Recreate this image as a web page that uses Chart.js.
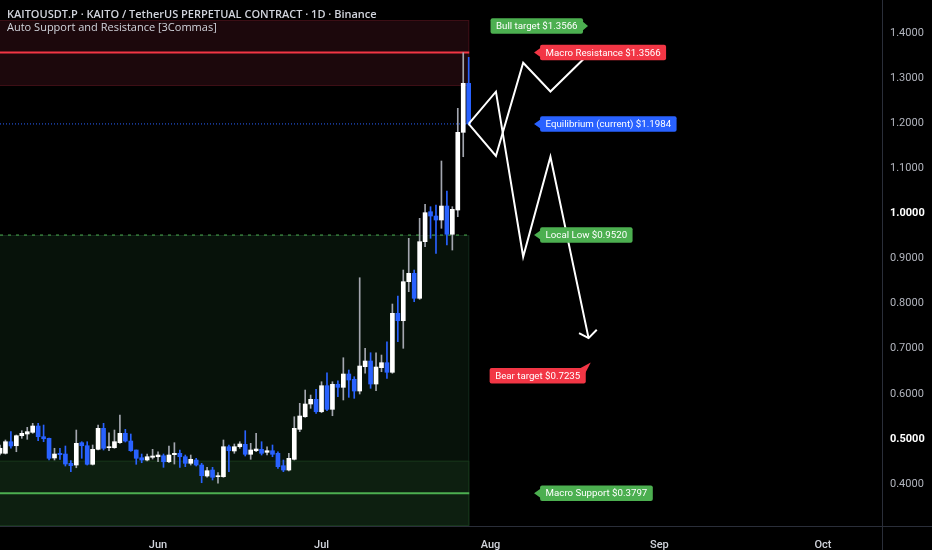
<!DOCTYPE html>
<html>
<head>
<meta charset="utf-8">
<title>KAITOUSDT.P 1D</title>
<script src="https://cdn.jsdelivr.net/npm/chart.js@4.4.1/dist/chart.umd.min.js"></script>
<style>
  html, body { margin: 0; padding: 0; background: #000; }
  #wrap { position: relative; width: 932px; height: 550px; }
  #header { position: absolute; left: 7px; top: 7px; font-family: "Open Sans", sans-serif; color: #d1d4dc; pointer-events: none; white-space: nowrap; }
  #header .sym { font-size: 11px; font-weight: 600; line-height: 13px; }
  #header .ind { font-size: 11px; line-height: 13px; }
</style>
</head>
<body>
<div id="wrap">
  <canvas id="chart" width="932" height="550"></canvas>
  <div id="header">
    <div class="sym">KAITOUSDT.P · KAITO / TetherUS PERPETUAL CONTRACT · 1D · Binance</div>
    <div class="ind">Auto Support and Resistance [3Commas]</div>
  </div>
</div>
<script>
// daily candles, first one is 3 May (day 0 = 1 Jun)
const firstDay = -29;
const opens = [
    0.4681, 0.4681, 0.4938, 0.4849, 0.5071, 0.5109, 0.5146, 0.5286, 0.5049, 0.5013,
    0.4577, 0.4681, 0.4665, 0.4459, 0.4421, 0.4916, 0.4849, 0.4437, 0.4769, 0.5235,
    0.4805, 0.4805, 0.4916, 0.5124, 0.4953, 0.4754, 0.4583, 0.4532, 0.4592, 0.4605,
    0.4627, 0.4494, 0.4650, 0.4681, 0.4605, 0.4459, 0.4532, 0.4421, 0.4177, 0.4310,
    0.4162, 0.4162, 0.4827, 0.4732, 0.4827, 0.4880, 0.4659, 0.4738, 0.4769, 0.4703,
    0.4738, 0.4681, 0.4406, 0.4310, 0.4548, 0.5213, 0.5492, 0.5774, 0.5878, 0.5603,
    0.6180, 0.5656, 0.6211, 0.6144, 0.6439, 0.6322, 0.6062, 0.6601, 0.6727, 0.6217,
    0.6579, 0.6690, 0.6477, 0.7785, 0.7621, 0.8486, 0.8672, 0.8118, 0.9373, 1.0038,
    0.9942, 0.9854, 1.0164, 0.9537, 1.0075, 1.1798, 1.2885
];
const highs = [
    0.4865, 0.4976, 0.5160, 0.5087, 0.5182, 0.5257, 0.5346, 0.5346, 0.5308, 0.5020,
    0.4792, 0.4792, 0.4843, 0.4517, 0.5197, 0.4938, 0.4938, 0.4865, 0.5308, 0.5346,
    0.5137, 0.5197, 0.5530, 0.5213, 0.5109, 0.4754, 0.4665, 0.4665, 0.4769, 0.4716,
    0.4665, 0.4843, 0.4916, 0.4754, 0.4643, 0.4643, 0.4570, 0.4459, 0.4370, 0.4370,
    0.4251, 0.4976, 0.4865, 0.4887, 0.4938, 0.5182, 0.4902, 0.5124, 0.4938, 0.4827,
    0.4865, 0.4716, 0.4532, 0.4681, 0.5492, 0.5789, 0.6084, 0.5973, 0.6100, 0.6268,
    0.6468, 0.6268, 0.6290, 0.6800, 0.6528, 0.6379, 0.8574, 0.7009, 0.6911, 0.6911,
    0.6860, 0.7155, 0.7991, 0.8169, 0.8745, 0.9448, 0.8745, 0.9891, 1.0202, 1.0149,
    1.0186, 1.1162, 1.0497, 1.0149, 1.2330, 1.3563, 1.3461
];
const lows = [
    0.4643, 0.4665, 0.4792, 0.4716, 0.5013, 0.4991, 0.5124, 0.4960, 0.4938, 0.4532,
    0.4532, 0.4548, 0.4399, 0.4273, 0.4361, 0.4570, 0.4421, 0.4421, 0.4754, 0.4754,
    0.4738, 0.4792, 0.4902, 0.4931, 0.4725, 0.4437, 0.4472, 0.4510, 0.4554, 0.4494,
    0.4370, 0.4472, 0.4443, 0.4370, 0.4384, 0.4421, 0.4399, 0.4029, 0.4149, 0.4089,
    0.4016, 0.4149, 0.4273, 0.4681, 0.4792, 0.4621, 0.4548, 0.4716, 0.4643, 0.4643,
    0.4605, 0.4348, 0.4273, 0.4288, 0.4532, 0.5160, 0.5479, 0.5678, 0.5568, 0.5581,
    0.5625, 0.5514, 0.5936, 0.5863, 0.5922, 0.5900, 0.5996, 0.6455, 0.6122, 0.6069,
    0.6490, 0.6344, 0.6455, 0.7155, 0.7009, 0.8264, 0.8042, 0.8095, 0.9262, 0.9448,
    0.9115, 0.9670, 0.9299, 0.9188, 0.9927, 1.1257, 1.1960
];
const closes = [
    0.4792, 0.4938, 0.4843, 0.5071, 0.5124, 0.5160, 0.5286, 0.5049, 0.5004, 0.4570,
    0.4665, 0.4650, 0.4443, 0.4406, 0.4902, 0.4849, 0.4437, 0.4769, 0.5235, 0.4792,
    0.4827, 0.4938, 0.5124, 0.4953, 0.4738, 0.4570, 0.4532, 0.4605, 0.4621, 0.4643,
    0.4494, 0.4643, 0.4681, 0.4605, 0.4459, 0.4548, 0.4421, 0.4184, 0.4295, 0.4149,
    0.4184, 0.4827, 0.4738, 0.4827, 0.4887, 0.4659, 0.4754, 0.4776, 0.4681, 0.4738,
    0.4659, 0.4384, 0.4310, 0.4570, 0.5235, 0.5508, 0.5774, 0.5878, 0.5603, 0.6180,
    0.5656, 0.6211, 0.6144, 0.6439, 0.6306, 0.6062, 0.6616, 0.6727, 0.6217, 0.6594,
    0.6690, 0.6477, 0.7785, 0.7621, 0.8486, 0.8672, 0.8118, 0.9373, 1.0016, 0.9942,
    0.9854, 1.0164, 0.9537, 1.0091, 1.1798, 1.2885, 1.1984
];

// axes
const monthDays = [0, 30, 61, 92, 122];
const monthNames = ["Jun", "Jul", "Aug", "Sep", "Oct"];
const priceTicks = [0.4, 0.5, 0.6, 0.7, 0.8, 0.9, 1.0, 1.1, 1.2, 1.3, 1.4];

// support / resistance levels
const macroResistance = 1.3566;
const equilibrium = 1.1984;
const localLow = 0.9520;
const macroSupport = 0.3797;
const resistanceZone = [1.2847, 1.4288];
const demandZone = [0.3091, 0.9520];
const supportZone = [0.3091, 0.4517];
const zoneEndDay = 57.1;

// projected paths
const bullDays = [57, 62, 67, 72, 79.3];
const bullPrices = [1.1984, 1.1273, 1.3342, 1.2703, 1.3566];
const bearDays = [57, 62, 67, 72, 79];
const bearPrices = [1.1984, 1.2699, 0.9040, 1.1257, 0.7235];
const arrowDays = [77.25, 79, 80.5];
const arrowPrices = [0.7346, 0.7235, 0.7421];

// callout labels (anchor = pointer tip)
const calloutTexts = [
    "Bull target $1.3566",
    "Macro Resistance $1.3566",
    "Equilibrium (current) $1.1984",
    "Local Low $0.9520",
    "Bear target $0.7235",
    "Macro Support $0.3797"
];
const calloutDays = [78.9, 69, 69, 69, 79.4, 69];
const calloutPrices = [1.4155, 1.3566, 1.1984, 0.9520, 0.6694, 0.3797];

(function () {
    "use strict";

    var upColor = "#ffffff";
    var downColor = "#2962ff";
    var upWick = "#a3a6af";
    var green = "#4caf50";
    var red = "#f23645";
    var blue = "#2962ff";
    var calloutStyle = [
        { color: green, side: "right" },
        { color: red, side: "left" },
        { color: blue, side: "left" },
        { color: green, side: "left" },
        { color: red, side: "corner" },
        { color: green, side: "left" }
    ];

    var days = opens.map(function (o, i) { return firstDay + i; });
    var isUp = function (i) { return closes[i] >= opens[i]; };

    var bodies = days.map(function (d, i) { return { x: d, y: [opens[i], closes[i]] }; });
    var wicks = days.map(function (d, i) { return { x: d, y: [lows[i], highs[i]] }; });
    var toPoints = function (xs, ys) { return xs.map(function (x, i) { return { x: x, y: ys[i] }; }); };

    // Zones and level lines behind the candles
    var levelsPlugin = {
        id: "levels",
        beforeDatasetsDraw: function (chart) {
            var ctx = chart.ctx, xs = chart.scales.x, ys = chart.scales.y, area = chart.chartArea;
            var left = area.left, right = xs.getPixelForValue(zoneEndDay);
            var rect = function (zone, fill, stroke) {
                var top = ys.getPixelForValue(zone[1]), bottom = ys.getPixelForValue(zone[0]);
                ctx.fillStyle = fill;
                ctx.fillRect(left, top, right - left, bottom - top);
                ctx.strokeStyle = stroke;
                ctx.lineWidth = 1;
                ctx.strokeRect(left - 1, top + 0.5, right - left + 0.5, bottom - top);
            };
            var hline = function (v, color, width, dash) {
                var y = ys.getPixelForValue(v);
                ctx.save();
                ctx.strokeStyle = color;
                ctx.lineWidth = width;
                ctx.setLineDash(dash);
                ctx.beginPath();
                ctx.moveTo(left, y);
                ctx.lineTo(right, y);
                ctx.stroke();
                ctx.restore();
            };
            ctx.save();
            rect(resistanceZone, "#1c080c", "#3e0f16");
            rect(demandZone, "#07120a", "#12281a");
            rect(supportZone, "#0d1f10", "#17361b");
            hline(macroResistance, red, 2, []);
            hline(equilibrium, blue, 1, [1, 2]);
            hline(localLow, green, 1, [3, 5]);
            hline(macroSupport, green, 2, []);
            ctx.restore();
        }
    };

    // Frame lines of the price and time scales
    var framePlugin = {
        id: "frame",
        afterDraw: function (chart) {
            var ctx = chart.ctx, area = chart.chartArea;
            ctx.save();
            ctx.strokeStyle = "#2a2e39";
            ctx.lineWidth = 1;
            ctx.beginPath();
            ctx.moveTo(area.right + 0.5, 0);
            ctx.lineTo(area.right + 0.5, chart.height);
            ctx.moveTo(0, area.bottom + 0.5);
            ctx.lineTo(chart.width, area.bottom + 0.5);
            ctx.stroke();
            ctx.restore();
        }
    };

    // Callout labels with pointer
    var calloutPlugin = {
        id: "callouts",
        afterDatasetsDraw: function (chart) {
            var ctx = chart.ctx, xs = chart.scales.x, ys = chart.scales.y;
            ctx.save();
            ctx.font = "9.7px Roboto";
            ctx.textBaseline = "middle";
            calloutTexts.forEach(function (text, i) {
                var st = calloutStyle[i];
                var tx = xs.getPixelForValue(calloutDays[i]);
                var ty = ys.getPixelForValue(calloutPrices[i]);
                var w = ctx.measureText(text).width + 11;
                var h = 15.5;
                var bx, by;
                ctx.fillStyle = st.color;
                ctx.beginPath();
                if (st.side === "left") {
                    bx = tx + 6;
                    by = ty - h / 2;
                    ctx.moveTo(tx, ty);
                    ctx.lineTo(bx + 1, ty - 5);
                    ctx.lineTo(bx + 1, ty + 5);
                } else if (st.side === "right") {
                    bx = tx - 5 - w;
                    by = ty - h / 2;
                    ctx.moveTo(tx, ty);
                    ctx.lineTo(bx + w - 1, ty - 5);
                    ctx.lineTo(bx + w - 1, ty + 5);
                } else {
                    bx = tx - 5 - w;
                    by = ty + 5.5;
                    ctx.moveTo(tx, ty);
                    ctx.lineTo(bx + w - 7, by + 1);
                    ctx.lineTo(bx + w - 1, by + 6);
                }
                ctx.closePath();
                ctx.fill();
                ctx.beginPath();
                ctx.roundRect(bx, by, w, h, 2);
                ctx.fill();
                ctx.fillStyle = "#ffffff";
                ctx.fillText(text, bx + 5.5, by + h / 2 + 0.5);
            });
            ctx.restore();
        }
    };

    var lineStyle = {
        type: "line",
        borderColor: "#ffffff",
        borderWidth: 2,
        pointRadius: 0,
        tension: 0,
        fill: false,
        order: 0
    };

    new Chart(document.getElementById("chart"), {
        type: "bar",
        data: {
            datasets: [
                Object.assign({}, lineStyle, { data: toPoints(bullDays, bullPrices) }),
                Object.assign({}, lineStyle, { data: toPoints(bearDays, bearPrices) }),
                Object.assign({}, lineStyle, { data: toPoints(arrowDays, arrowPrices) }),
                {
                    data: bodies,
                    backgroundColor: function (c) { return isUp(c.dataIndex) ? upColor : downColor; },
                    barThickness: 4,
                    minBarLength: 1,
                    grouped: false,
                    order: 1
                },
                {
                    data: wicks,
                    backgroundColor: function (c) { return isUp(c.dataIndex) ? upWick : downColor; },
                    barThickness: 1,
                    grouped: false,
                    order: 2
                }
            ]
        },
        options: {
            responsive: false,
            animation: false,
            events: [],
            layout: { padding: 0 },
            plugins: {
                legend: { display: false },
                tooltip: { enabled: false }
            },
            scales: {
                x: {
                    type: "linear",
                    min: firstDay,
                    max: firstDay + 161.84,
                    offset: false,
                    grid: { display: false },
                    border: { display: false },
                    afterBuildTicks: function (s) {
                        s.ticks = monthDays.map(function (v) { return { value: v }; });
                    },
                    afterFit: function (s) {
                        s.height = 24;
                        s.paddingLeft = 0;
                        s.paddingRight = 0;
                    },
                    ticks: {
                        autoSkip: false,
                        maxRotation: 0,
                        padding: 5,
                        color: "#d1d4dc",
                        font: { family: "Roboto", size: 11, weight: "500" },
                        callback: function (v) { return monthNames[monthDays.indexOf(v)]; }
                    }
                },
                y: {
                    type: "linear",
                    position: "right",
                    min: 0.3069,
                    max: 1.4732,
                    grid: { display: false, drawTicks: false },
                    border: { display: false },
                    afterBuildTicks: function (s) {
                        s.ticks = priceTicks.map(function (v) { return { value: v }; });
                    },
                    afterFit: function (s) {
                        s.width = 50;
                        s.paddingTop = 0;
                        s.paddingBottom = 0;
                    },
                    ticks: {
                        padding: 8,
                        color: function (c) {
                            return (c.tick.value === 1 || c.tick.value === 0.5) ? "#ffffff" : "#b2b5be";
                        },
                        font: function (c) {
                            var strong = c.tick && (c.tick.value === 1 || c.tick.value === 0.5);
                            return { family: "Roboto", size: 11, weight: strong ? "bold" : "normal" };
                        },
                        callback: function (v) { return v.toFixed(4); }
                    }
                }
            }
        },
        plugins: [levelsPlugin, calloutPlugin, framePlugin]
    });
})();
</script>
</body>
</html>
